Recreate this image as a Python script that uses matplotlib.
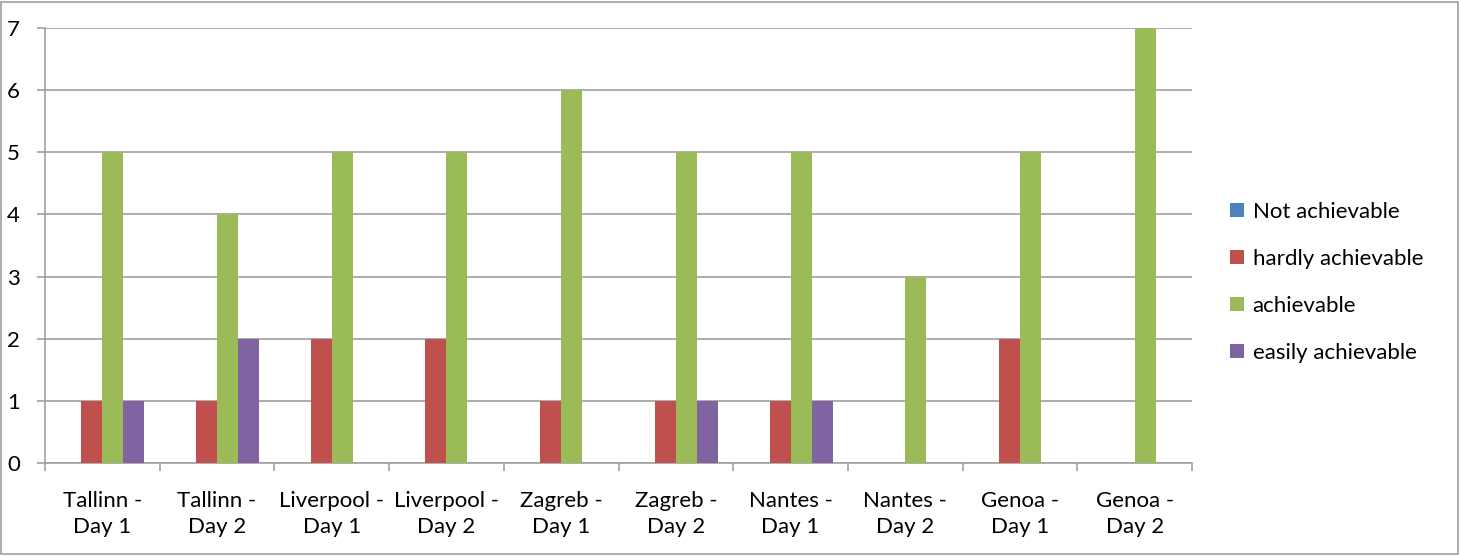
import numpy as np
import matplotlib.pyplot as plt
from matplotlib.patches import Rectangle

categories = ["Tallinn -\nDay 1", "Tallinn -\nDay 2", "Liverpool -\nDay 1", "Liverpool -\nDay 2",
              "Zagreb -\nDay 1", "Zagreb -\nDay 2", "Nantes -\nDay 1", "Nantes -\nDay 2",
              "Genoa -\nDay 1", "Genoa -\nDay 2"]
series_names = ["Not achievable", "hardly achievable", "achievable", "easily achievable"]
not_achievable = [0, 0, 0, 0, 0, 0, 0, 0, 0, 0]
hardly_achievable = [1, 1, 2, 2, 1, 1, 1, 0, 2, 0]
achievable = [5, 4, 5, 5, 6, 5, 5, 3, 5, 7]
easily_achievable = [1, 2, 0, 0, 0, 1, 1, 0, 0, 0]
colors = ["#4f81bd", "#c0504d", "#9bbb59", "#8064a2"]

plt.rcParams['font.family'] = ['Lato', 'DejaVu Sans']

fig = plt.figure(figsize=(14.61, 5.56), dpi=100)
ax = fig.add_axes([0.0308, 0.1673, 0.7851, 0.7823])

x = np.arange(len(categories))
w = 0.183
values = [not_achievable, hardly_achievable, achievable, easily_achievable]
for i, (name, vals) in enumerate(zip(series_names, values)):
    ax.bar(x + (i - 1.5) * w, vals, w, color=colors[i], label=name, zorder=3)

ax.set_xlim(-0.5, len(categories) - 0.5)
ax.set_ylim(0, 7)
ax.set_yticks(range(8))
ax.grid(axis='y', color='#a0a0a0', linewidth=1.2, zorder=0)
for s in ['top', 'right']:
    ax.spines[s].set_visible(False)
for s in ['left', 'bottom']:
    ax.spines[s].set_color('#a0a0a0')
    ax.spines[s].set_linewidth(1.2)
ax.tick_params(axis='y', length=6, width=1.2, color='#a0a0a0', labelsize=16, pad=12)
ax.set_xticks(np.arange(-0.5, len(categories)), minor=False)
ax.set_xticklabels([])
ax.set_xticks(x, minor=True)
ax.set_xticklabels(categories, minor=True, fontsize=16, linespacing=1.4)
ax.tick_params(axis='x', which='major', length=6, width=1.2, color='#a0a0a0', direction='out')
ax.tick_params(axis='x', which='minor', length=0, pad=20)

ax.legend(loc='center left', bbox_to_anchor=(1.016, 0.415), frameon=False, fontsize=16,
          handlelength=0.6, handleheight=0.6, handletextpad=0.4, labelspacing=1.22)

fig.patches.append(Rectangle((0.001, 0.004), 0.997, 0.993, transform=fig.transFigure,
                             fill=False, edgecolor='#a0a0a0', linewidth=1.2))

fig.savefig("out.png", dpi=100)
